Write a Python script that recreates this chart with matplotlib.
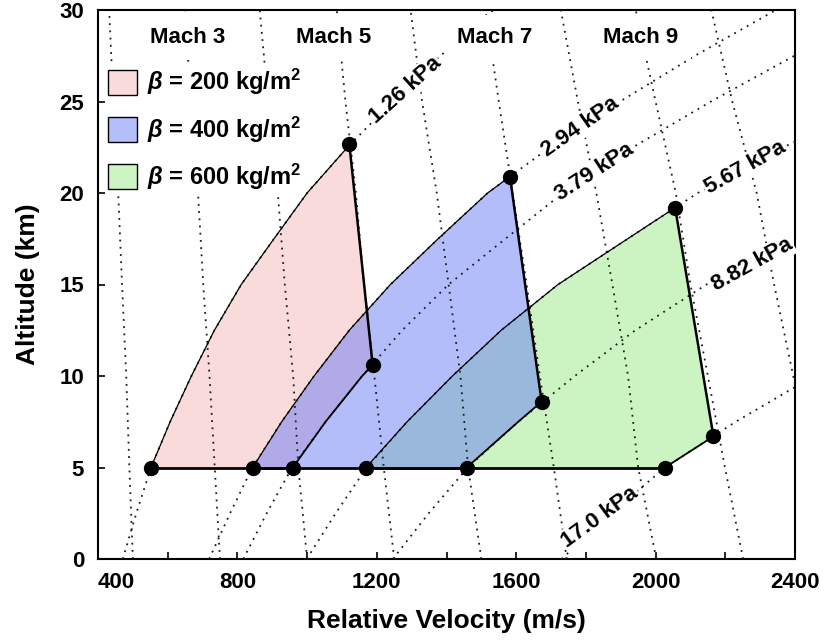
import matplotlib
matplotlib.use("Agg")
import matplotlib.pyplot as plt
from matplotlib.patches import Patch

plt.rcParams['font.family'] = ['Liberation Sans', 'DejaVu Sans']
plt.rcParams['font.weight'] = 'bold'
plt.rcParams['mathtext.fontset'] = 'custom'
plt.rcParams['mathtext.rm'] = 'Liberation Sans:bold'
plt.rcParams['mathtext.it'] = 'Liberation Sans:bold:italic'

# altitudes (km) for the Mach lines
alt_m = [0, 5, 10, 15, 20, 25, 30]
mach_num = [2, 3, 4, 5, 6, 7, 8, 9, 10]
m2 = [500, 490, 481, 469, 458, 444, 432]
m3 = [750, 735, 720, 702, 687, 666, 650]
m4 = [1000, 975, 960, 936, 916, 888, 864]
m5 = [1250, 1220, 1193, 1163, 1140, 1110, 1085]
m6 = [1500, 1462, 1440, 1406, 1372, 1330, 1297]
m7 = [1745, 1708, 1668, 1630, 1590, 1550, 1512]
m8 = [2002, 1950, 1921, 1876, 1830, 1777, 1728]
m9 = [2251, 2199, 2150, 2100, 2058, 2000, 1943]
m10 = [2500, 2450, 2395, 2340, 2290, 2220, 2160]

# altitudes (km) for the dynamic pressure lines
alt_q = [0, 2.5, 5, 7.5, 10, 12.5, 15, 17.5, 20, 22.5, 25, 27.5, 30]
q_vals = ['1.26', '2.94', '3.79', '5.67', '8.82', '17.0']
q126 = [471, 510, 552, 607, 668, 734, 811, 905, 1000, 1116, 1245, 1383, 1535]
q294 = [719, 779, 843, 927, 1020, 1121, 1239, 1376, 1518, 1697, 1898, 2113, 2345]
q379 = [817, 884, 957, 1053, 1158, 1273, 1406, 1569, 1734, 1935, 2159, 2398, 2662]
q567 = [999, 1082, 1171, 1287, 1417, 1557, 1720, 1920, 2121, 2367, 2641]
q882 = [1246, 1349, 1461, 1606, 1768, 1942, 2146, 2395, 2646]
q1700 = [1730, 1873, 2027, 2230, 2454]

# corners of the three regions
beta = [200, 400, 600]
h_floor = 5
bl_v = [552, 844, 1169]
br_v = [959, 1458, 2027]
top_v = [1121, 1582, 2056]
top_h = [22.7, 20.9, 19.2]
lr_v = [1188, 1673, 2166]
lr_h = [10.6, 8.6, 6.7]

fill_cols = ['#f5b9b9', '#697df5', '#9beb87']
leg_cols = ['#fadcdc', '#b4befa', '#cdf5c3']

# label positions (velocity, altitude, angle)
mach_lab = ['Mach 3', 'Mach 5', 'Mach 7', 'Mach 9']
mach_lab_v = [657, 1077, 1539, 1957]
q_lab_v = [1281, 1783, 1823, 2256, 2277, 1840]
q_lab_h = [25.6, 23.6, 21.15, 21.4, 16.1, 2.3]
q_lab_ang = [42, 35, 33, 29, 29, 36]

fig = plt.figure(figsize=(8.24, 6.4), dpi=100)
ax = fig.add_axes([98/824, 81/640, 697/824, 549/640])

dot = dict(color='#1a1a1a', lw=1.3, linestyle=(0, (1, 3)), zorder=3)

mach_lines = [m2, m3, m4, m5, m6, m7, m8, m9, m10]
for v in mach_lines:
    ax.plot(v, alt_m, **dot)

q_lines = [q126, q294, q379, q567, q882, q1700]
for v in q_lines:
    ax.plot(v, alt_q[:len(v)], **dot)

q_low = [q126, q294, q567]
q_high = [q379, q882, q1700]
order = [0, 2, 1]  # blue sits on top of the others
for i in order:
    lx = [bl_v[i]] + [v for v, h in zip(q_low[i], alt_q) if h_floor < h < top_h[i]] + [top_v[i]]
    ly = [h_floor] + [h for v, h in zip(q_low[i], alt_q) if h_floor < h < top_h[i]] + [top_h[i]]
    rx = [lr_v[i]] + [v for v, h in reversed(list(zip(q_high[i], alt_q))) if h_floor < h < lr_h[i]] + [br_v[i]]
    ry = [lr_h[i]] + [h for v, h in reversed(list(zip(q_high[i], alt_q))) if h_floor < h < lr_h[i]] + [h_floor]
    ax.fill(lx + rx, ly + ry, color=fill_cols[i], alpha=0.5, lw=0, zorder=2)
    ax.plot(lx, ly, color='k', lw=0.9, zorder=4)
    ax.plot(rx, ry, color='k', lw=1.3, zorder=4)
    ax.plot([top_v[i], lr_v[i]], [top_h[i], lr_h[i]], color='k', lw=1.8, zorder=4)
    ax.plot([bl_v[i], br_v[i]], [h_floor, h_floor], color='k', lw=2, zorder=4)

pts_v = bl_v + br_v + top_v + lr_v
pts_h = [h_floor] * 6 + top_h + lr_h
ax.plot(pts_v, pts_h, 'o', color='k', ms=10, zorder=5)

for lab, v in zip(mach_lab, mach_lab_v):
    ax.text(v, 28.5, lab, fontsize=16, fontweight='bold', ha='center', va='center',
            zorder=6, bbox=dict(facecolor='white', edgecolor='none', pad=9))

for q, v, h, a in zip(q_vals, q_lab_v, q_lab_h, q_lab_ang):
    ax.text(v, h, q + ' kPa', fontsize=16, fontweight='bold', ha='center', va='center',
            rotation=a, rotation_mode='anchor', zorder=6,
            bbox=dict(facecolor='white', edgecolor='none', pad=1))

handles = [Patch(facecolor=c, edgecolor='k', lw=1) for c in leg_cols]
labels = [r'$\beta$ = %d kg/m$^2$' % b for b in beta]
leg = ax.legend(handles, labels, loc='upper left', bbox_to_anchor=(0.0115, 0.9),
                fontsize=17, frameon=True, fancybox=False, framealpha=1,
                edgecolor='none', borderpad=0.1, borderaxespad=0, handlelength=1.23,
                handleheight=1.27, handletextpad=0.4, labelspacing=0.72)
leg.set_zorder(7)

ax.set_xlim(400, 2400)
ax.set_ylim(0, 30)
xt = list(range(400, 2401, 200))
ax.set_xticks(xt)
ax.set_xticklabels([str(t) if t % 400 == 0 else '' for t in xt])
ax.get_xticklabels()[0].set_ha('left')
ax.set_yticks(range(0, 31, 5))
ax.tick_params(direction='in', length=5, width=1.2, top=False, right=False, labelsize=16)
ax.tick_params(axis='x', pad=9)
ax.tick_params(axis='y', pad=10)
for s in ax.spines.values():
    s.set_linewidth(1.5)

ax.set_xlabel('Relative Velocity (m/s)', fontsize=19, fontweight='bold', labelpad=12)
ax.set_ylabel('Altitude (km)', fontsize=19, fontweight='bold', labelpad=14)

fig.savefig('out.png', dpi=100)
